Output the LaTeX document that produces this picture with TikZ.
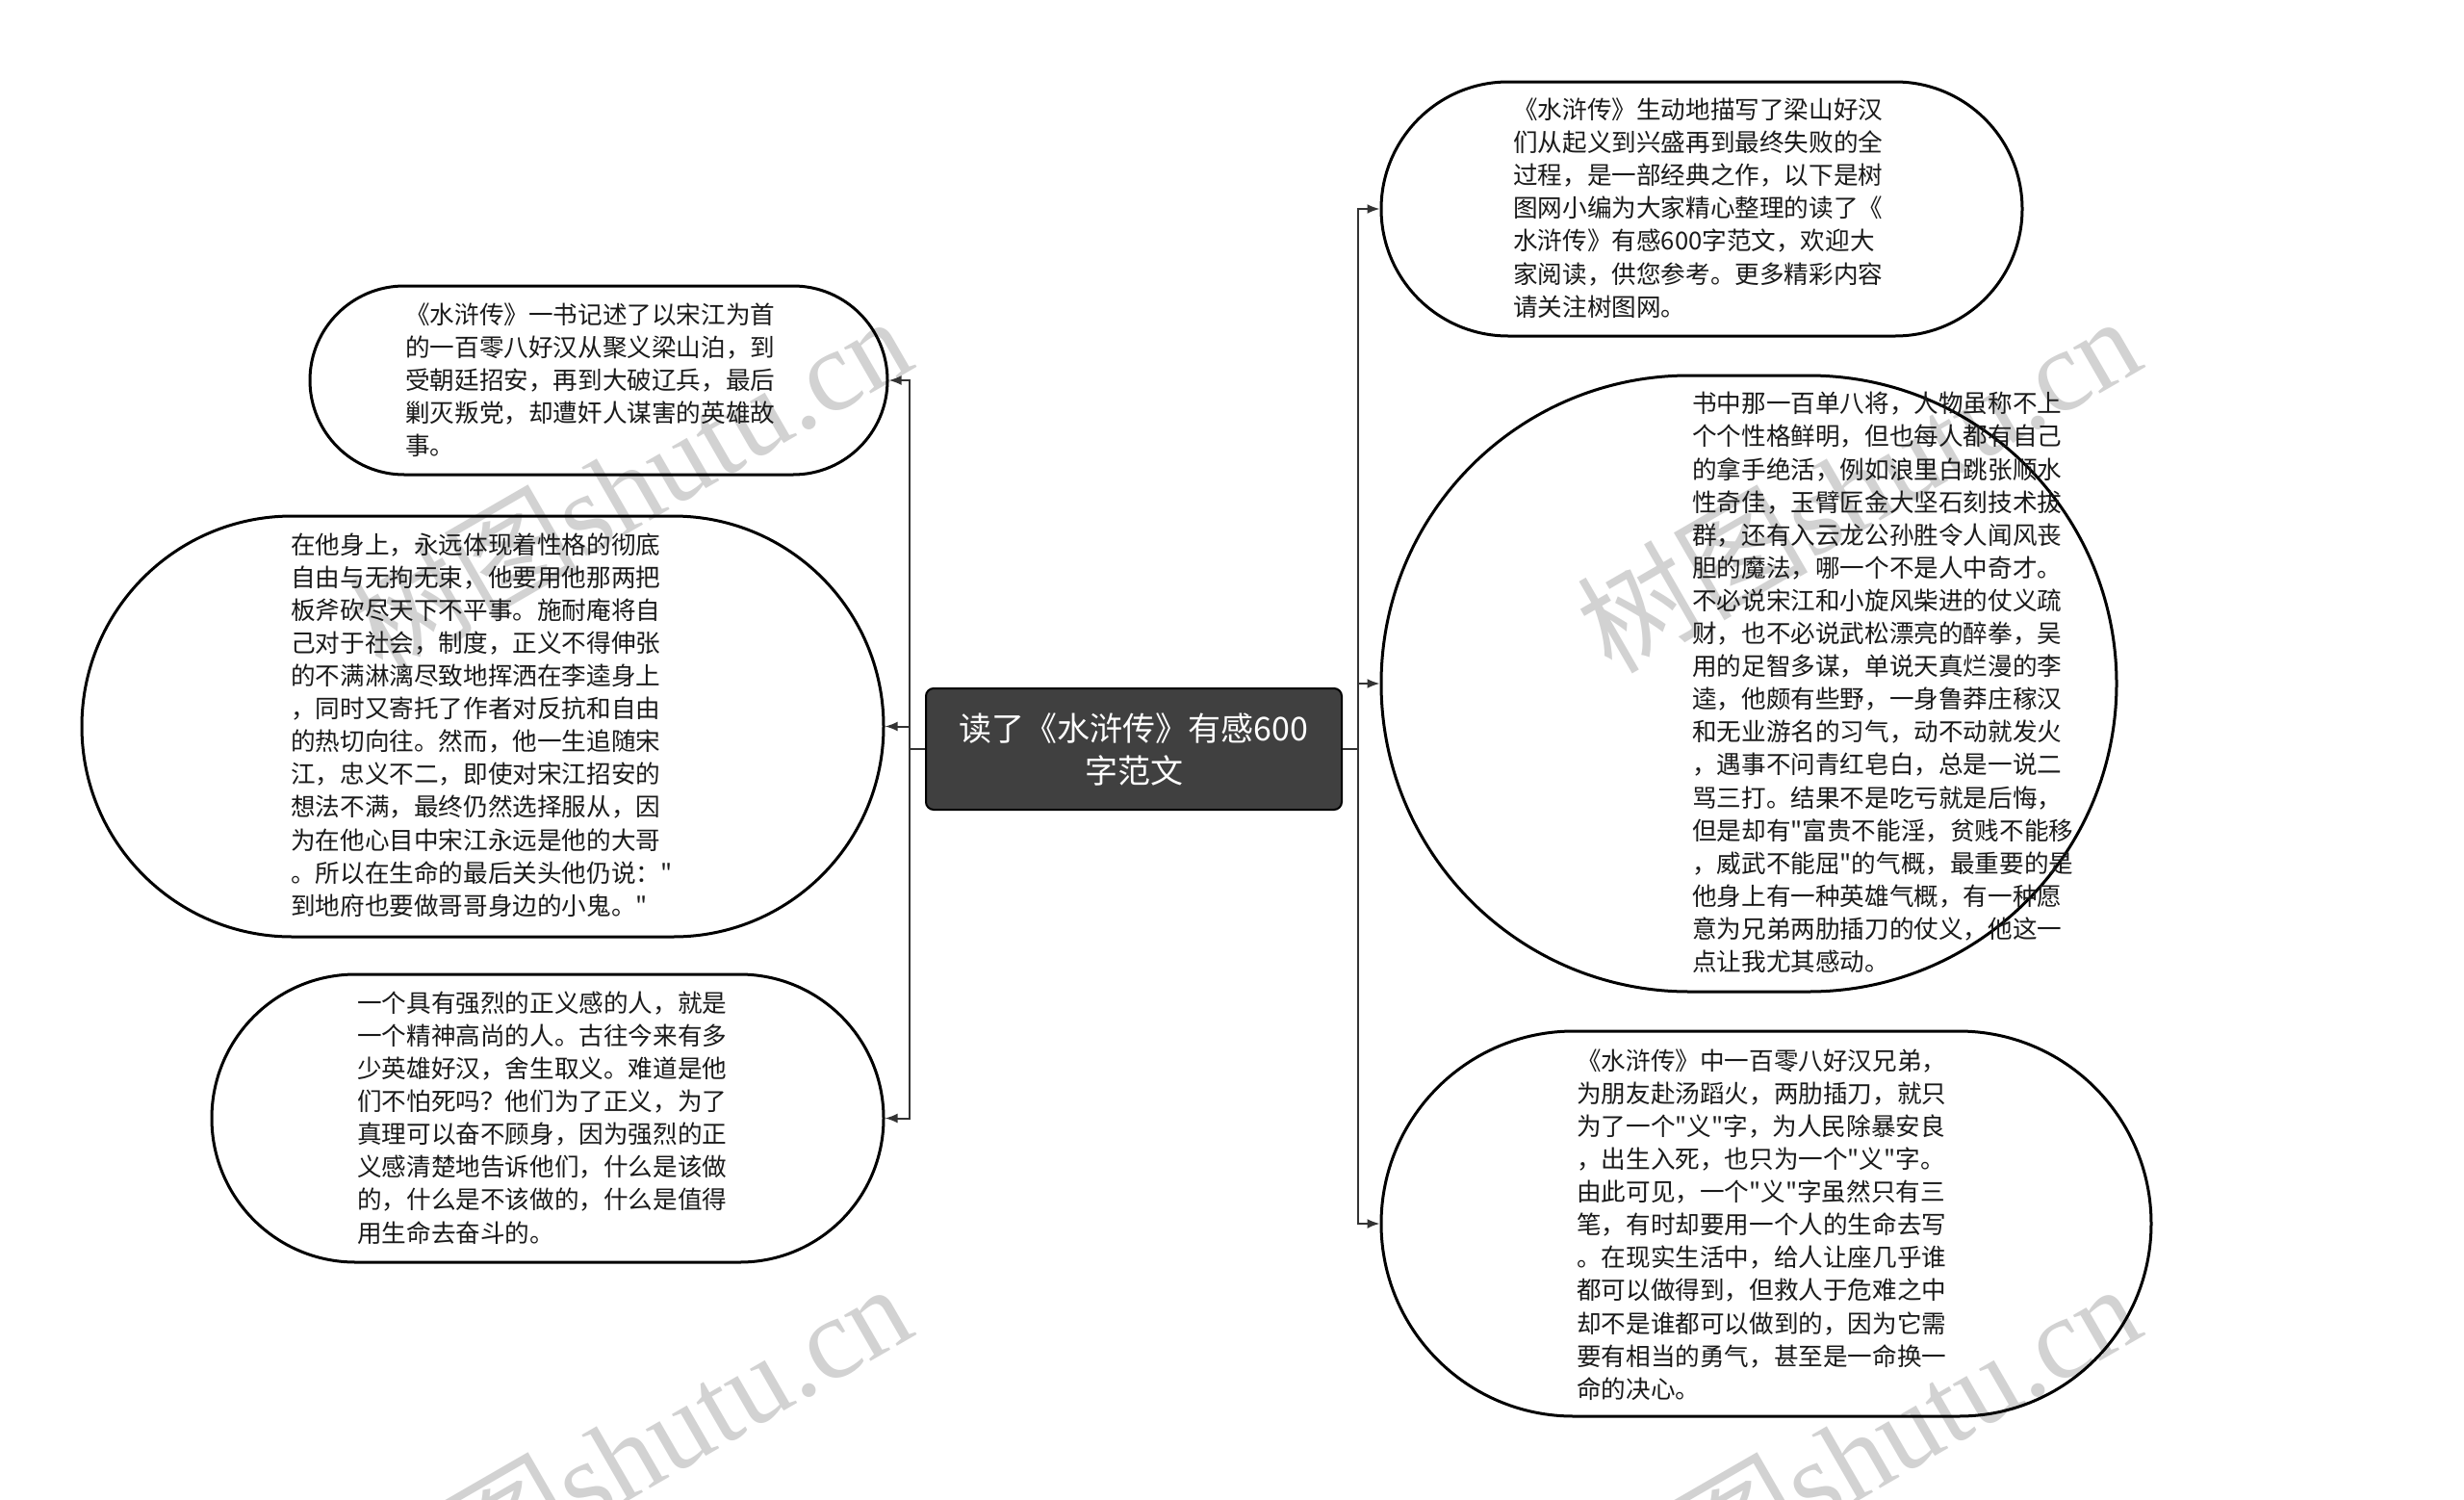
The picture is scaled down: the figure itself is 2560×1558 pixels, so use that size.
\documentclass[tikz,border=0pt]{standalone}
\usepackage{fontspec}
\newfontfamily\cjk{Noto Sans CJK SC}
\newfontfamily\wmserif{Liberation Serif}
\usetikzlibrary{shapes.misc,arrows.meta}
\definecolor{linec}{HTML}{333333}
\definecolor{rootfill}{HTML}{404040}
\definecolor{wmgrey}{HTML}{D2D2D2}
\definecolor{bodytext}{HTML}{1A1A1A}
\begin{document}
\begin{tikzpicture}[x=1pt,y=-1pt,
  bubble/.style={draw=black, line width=3pt, rounded rectangle, inner sep=0pt},
  body/.style={font=\cjk\fontsize{25.6}{34.1}\selectfont, align=left, inner sep=0pt, anchor=west, text=bodytext},
  rootbox/.style={draw=black, line width=2pt, fill=rootfill, rounded corners=8pt, minimum width=432pt, minimum height=126pt, inner sep=0pt, text=white, align=center, font=\cjk\fontsize{34}{44}\selectfont},
  link/.style={draw=linec, line width=2pt, -{Latex[length=13pt,width=10pt]}},
  stub/.style={draw=linec, line width=2pt},
  wm/.style={text=wmgrey, anchor=base east, rotate=30, inner sep=0pt, font=\fontsize{120}{120}\selectfont}
]
\useasboundingbox (0,0) rectangle (2560,1558);
\fill[white] (0,0) rectangle (2560,1558);

% watermarks
\node[wm] (wm1) at (955,380) {{\cjk 树图}{\wmserif shutu.cn}};
\node[wm] (wm2) at (2232,380) {{\cjk 树图}{\wmserif shutu.cn}};
\node[wm] (wm3) at (955,1385) {{\cjk 树图}{\wmserif shutu.cn}};
\node[wm] (wm4) at (2232,1385) {{\cjk 树图}{\wmserif shutu.cn}};

% root
\node[rootbox] (root) at (1178,778) {读了《水浒传》有感600\\字范文};

% bubbles
\node[bubble, minimum width=600pt, minimum height=196pt] (L1) at (622,395) {};
\node[bubble, minimum width=833pt, minimum height=437pt] (L2) at (501.5,754.5) {};
\node[bubble, minimum width=698pt, minimum height=299pt] (L3) at (569,1161.5) {};
\node[bubble, minimum width=666pt, minimum height=264pt] (R1) at (1768,217) {};
\node[bubble, minimum width=764pt, minimum height=640pt] (R2) at (1817,710) {};
\node[bubble, minimum width=800pt, minimum height=400pt] (R3) at (1835,1271) {};

% texts
\node[body] (tL1) at (421,395) {《水浒传》一书记述了以宋江为首\\的一百零八好汉从聚义梁山泊，到\\受朝廷招安，再到大破辽兵，最后\\剿灭叛党，却遭奸人谋害的英雄故\\事。};
\node[body] (tL2) at (302,753) {在他身上，永远体现着性格的彻底\\自由与无拘无束，他要用他那两把\\板斧砍尽天下不平事。施耐庵将自\\己对于社会，制度，正义不得伸张\\的不满淋漓尽致地挥洒在李逵身上\\，同时又寄托了作者对反抗和自由\\的热切向往。然而，他一生追随宋\\江，忠义不二，即使对宋江招安的\\想法不满，最终仍然选择服从，因\\为在他心目中宋江永远是他的大哥\\。所以在生命的最后关头他仍说："\\到地府也要做哥哥身边的小鬼。"};
\node[body] (tL3) at (371,1161) {一个具有强烈的正义感的人，就是\\一个精神高尚的人。古往今来有多\\少英雄好汉，舍生取义。难道是他\\们不怕死吗？他们为了正义，为了\\真理可以奋不顾身，因为强烈的正\\义感清楚地告诉他们，什么是该做\\的，什么是不该做的，什么是值得\\用生命去奋斗的。};
\node[body] (tR1) at (1572,216) {《水浒传》生动地描写了梁山好汉\\们从起义到兴盛再到最终失败的全\\过程，是一部经典之作，以下是树\\图网小编为大家精心整理的读了《\\水浒传》有感600字范文，欢迎大\\家阅读，供您参考。更多精彩内容\\请关注树图网。};
\node[body] (tR2) at (1758,709) {书中那一百单八将，人物虽称不上\\个个性格鲜明，但也每人都有自己\\的拿手绝活，例如浪里白跳张顺水\\性奇佳，玉臂匠金大坚石刻技术拔\\群，还有入云龙公孙胜令人闻风丧\\胆的魔法，哪一个不是人中奇才。\\不必说宋江和小旋风柴进的仗义疏\\财，也不必说武松漂亮的醉拳，吴\\用的足智多谋，单说天真烂漫的李\\逵，他颇有些野，一身鲁莽庄稼汉\\和无业游名的习气，动不动就发火\\，遇事不问青红皂白，总是一说二\\骂三打。结果不是吃亏就是后悔，\\但是却有"富贵不能淫，贫贱不能移\\，威武不能屈"的气概，最重要的是\\他身上有一种英雄气概，有一种愿\\意为兄弟两肋插刀的仗义，他这一\\点让我尤其感动。};
\node[body] (tR3) at (1638,1272) {《水浒传》中一百零八好汉兄弟，\\为朋友赴汤蹈火，两肋插刀，就只\\为了一个"义"字，为人民除暴安良\\，出生入死，也只为一个"义"字。\\由此可见，一个"义"字虽然只有三\\笔，有时却要用一个人的生命去写\\。在现实生活中，给人让座几乎谁\\都可以做得到，但救人于危难之中\\却不是谁都可以做到的，因为它需\\要有相当的勇气，甚至是一命换一\\命的决心。};

% connectors
\coordinate (lt) at (945,778);
\coordinate (rt) at (1411,778);
\draw[stub] (root.west) -- (lt);
\draw[stub] (root.east) -- (rt);
\draw[link] (lt) |- (L1.east);
\draw[link] (lt) |- (L2.east);
\draw[link] (lt) |- (L3.east);
\draw[link] (rt) |- (R1.west);
\draw[link] (rt) |- (R2.west);
\draw[link] (rt) |- (R3.west);
\end{tikzpicture}
\end{document}
